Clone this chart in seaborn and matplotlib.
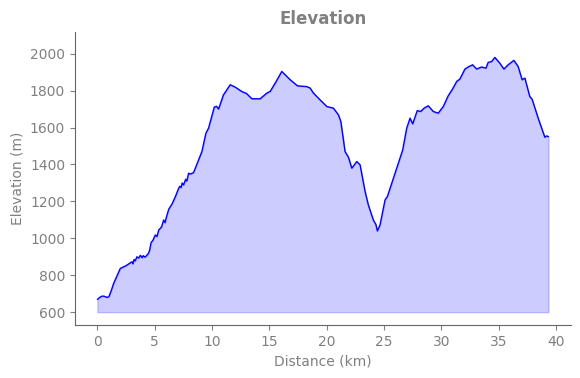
import numpy as np
import pandas as pd
import seaborn as sns
import matplotlib.pyplot as plt

# track profile
distance_km = [0.0, 0.2, 0.41, 0.6, 0.85, 1.0, 1.2, 1.42, 1.7, 2.0, 2.5, 3.02, 3.1, 3.2, 3.3,
               3.45, 3.6, 3.75, 3.9, 4.0, 4.15, 4.33, 4.45, 4.56, 4.68, 4.85, 5.05, 5.2,
               5.35, 5.49, 5.6, 5.78, 5.9, 6.0, 6.22, 6.51, 6.8, 7.09, 7.2, 7.3, 7.4, 7.52,
               7.7, 7.8, 7.96, 8.1, 8.39, 8.69, 9.12, 9.47, 9.7, 10.2, 10.4, 10.57, 11.0,
               11.3, 11.59, 12.03, 12.61, 13.0, 13.48, 14.2, 14.79, 15.08, 15.6, 16.09,
               16.4, 16.82, 17.46, 18.27, 18.56, 18.85, 19.29, 19.43, 20.02, 20.6, 21.03,
               21.24, 21.61, 21.9, 22.2, 22.63, 22.92, 23.36, 23.64, 24.08, 24.3, 24.43,
               24.66, 25.1, 25.3, 25.82, 26.26, 26.64, 26.99, 27.28, 27.51, 27.91, 28.21,
               28.5, 28.87, 29.31, 29.74, 30.18, 30.61, 31.0, 31.35, 31.63, 32.07, 32.4,
               32.74, 33.09, 33.52, 33.9, 34.1, 34.4, 34.68, 35.1, 35.47, 35.84, 36.34,
               36.71, 37.06, 37.3, 37.73, 37.93, 38.46, 38.8, 39.04, 39.2, 39.36]
elevation_m = [669, 680, 687, 686, 680, 684, 715, 756, 795, 837, 852, 873, 862, 885, 878,
               900, 893, 908, 895, 906, 898, 909, 918, 936, 976, 990, 1018, 1010,
               1045, 1054, 1062, 1099, 1085, 1110, 1157, 1186, 1225, 1271, 1282, 1275, 1300, 1289,
               1320, 1310, 1353, 1348, 1356, 1403, 1470, 1570, 1597, 1711, 1715, 1700, 1777,
               1805, 1832, 1819, 1795, 1785, 1756, 1756, 1787, 1796, 1850, 1904,
               1885, 1859, 1826, 1822, 1814, 1787, 1759, 1750, 1714, 1705, 1669,
               1633, 1470, 1440, 1380, 1416, 1398, 1253, 1181, 1099, 1075, 1040,
               1072, 1208, 1226, 1325, 1407, 1479, 1597, 1651, 1620, 1692, 1687,
               1705, 1718, 1687, 1678, 1714, 1772, 1810, 1850, 1863, 1917, 1930,
               1940, 1917, 1928, 1922, 1953, 1958, 1980, 1950, 1917, 1940, 1964,
               1931, 1859, 1868, 1768, 1754, 1651, 1590, 1548, 1555, 1551]

df = pd.DataFrame({'distance': distance_km, 'elevation': elevation_m})
base = 600

text_gray = '#808080'
sns.set_style('ticks')
plt.rcParams['font.family'] = ['DejaVu Sans']

fig = plt.figure(figsize=(5.8, 3.78), dpi=100)
ax = fig.add_axes([0.129, 0.14, 0.855, 0.775])

ax.fill_between(df['distance'], df['elevation'], base, color='blue', alpha=0.2)
sns.lineplot(data=df, x='distance', y='elevation', color='blue', linewidth=1, ax=ax)

ax.set_xlim(-1.97, 41.3)
ax.set_ylim(530, 2117)
ax.set_xticks([0, 5, 10, 15, 20, 25, 30, 35, 40])
ax.set_yticks([600, 800, 1000, 1200, 1400, 1600, 1800, 2000])
ax.set_xlabel('Distance (km)', color=text_gray, fontsize=10)
ax.set_ylabel('Elevation (m)', color=text_gray, fontsize=10)
ax.set_title('Elevation', color=text_gray, fontsize=12, fontweight='bold')
ax.tick_params(colors=text_gray, labelsize=10)
sns.despine(ax=ax)
for s in ['left', 'bottom']:
    ax.spines[s].set_color('#666666')

fig.savefig('out.png', dpi=100)
